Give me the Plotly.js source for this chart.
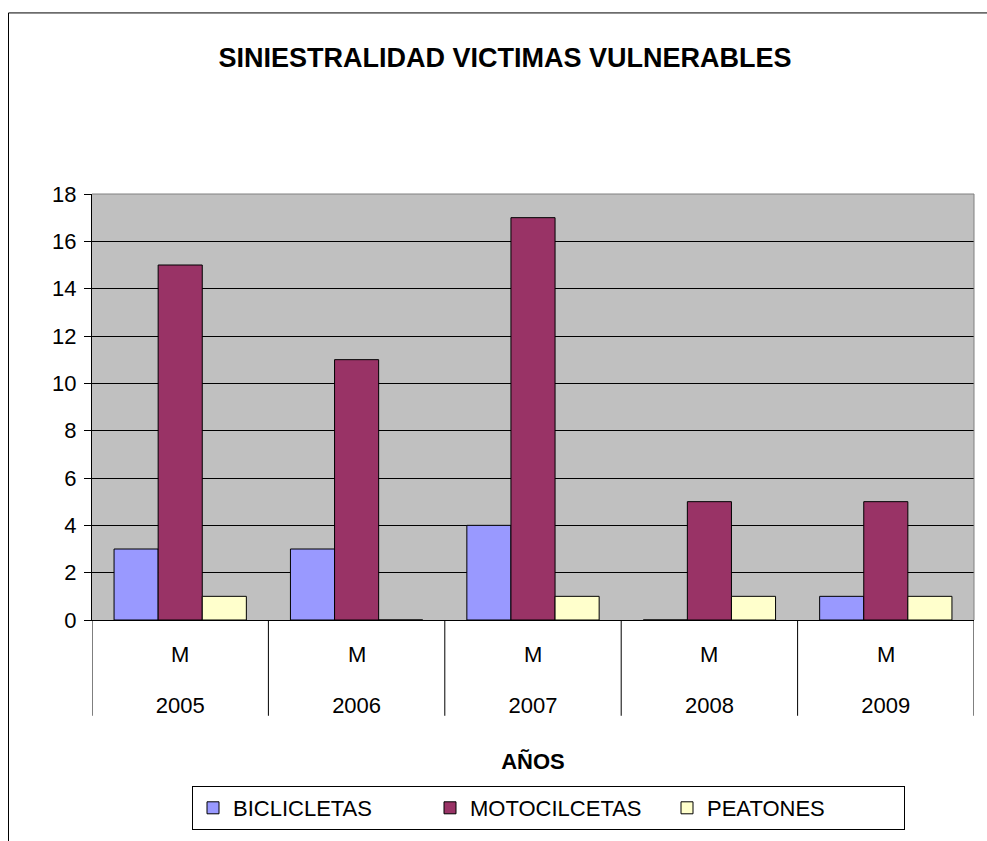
<!DOCTYPE html>
<html>
<head>
<meta charset="utf-8">
<script src="https://cdn.plot.ly/plotly-3.0.1.min.js"></script>
<style>html,body{margin:0;padding:0;background:#fff;}#chart{width:987px;height:841px;}</style>
</head>
<body>
<div id="chart"></div>
<script>
var years = ['2005', '2006', '2007', '2008', '2009'];
var subLabels = ['M', 'M', 'M', 'M', 'M'];
var seriesNames = ['BICLICLETAS', 'MOTOCILCETAS', 'PEATONES'];
var bicicletas = [3, 3, 4, 0, 1];
var motocicletas = [15, 11, 17, 5, 5];
var peatones = [1, 0, 1, 1, 1];
var yTicks = [0, 2, 4, 6, 8, 10, 12, 14, 16, 18];

var FONT = 'Arial, "Liberation Sans", sans-serif';
var colors = ['#9999FF', '#993366', '#FFFFCC'];
var values = [bicicletas, motocicletas, peatones];

var traces = values.map(function (v, i) {
  return {
    type: 'bar',
    name: seriesNames[i],
    x: years,
    y: v,
    marker: { color: colors[i], line: { color: '#000000', width: 1 } },
    hoverinfo: 'y'
  };
});

// plot-area geometry (px) used to convert to paper fractions
var PL = 92, PR = 974, PT = 194, PB = 621;
function px2py(py) { return (PB - py) / (PB - PT); }
function px2px(px) { return (px - PL) / (PR - PL); }

// sub-category labels ("M") placed per category (category index on the x axis)
var subAnnotations = years.map(function (yr, i) {
  return {
    xref: 'x', yref: 'paper', x: i, y: px2py(656),
    xanchor: 'center', yanchor: 'middle', showarrow: false,
    text: subLabels[i],
    font: { family: FONT, size: 22, color: '#000000' }
  };
});

// category dividers (boundaries between categories, derived from category count)
var dividerShapes = [];
for (var i = 0; i <= years.length; i++) {
  dividerShapes.push({
    type: 'line', xref: 'x', yref: 'paper',
    x0: i - 0.5, x1: i - 0.5, y0: 0, y1: px2py(717),
    line: { color: '#000000', width: 1 }, layer: 'above'
  });
}

var layout = {
  width: 987,
  height: 841,
  margin: { l: PL, r: 987 - PR, t: PT, b: 841 - PB, pad: 0 },
  paper_bgcolor: '#FFFFFF',
  plot_bgcolor: '#C0C0C0',
  font: { family: FONT, color: '#000000', size: 22 },
  title: {
    text: '<b>SINIESTRALIDAD VICTIMAS VULNERABLES</b>',
    font: { family: FONT, size: 27, color: '#000000' },
    xref: 'container', x: 0.5117, xanchor: 'center',
    yref: 'container', y: 1 - 58 / 841, yanchor: 'middle'
  },
  barmode: 'group',
  bargap: 0.25,
  bargroupgap: 0,
  showlegend: true,
  legend: {
    orientation: 'h',
    x: px2px(192), xanchor: 'left',
    y: px2py(786), yanchor: 'top',
    bgcolor: '#FFFFFF',
    bordercolor: '#000000',
    borderwidth: 1,
    font: { family: FONT, size: 22, color: '#000000' },
    entrywidth: 192,
    traceorder: 'normal'
  },
  xaxis: {
    type: 'category',
    range: [-0.5, years.length - 0.5],
    showline: true, linecolor: '#000000', linewidth: 1,
    showgrid: false, zeroline: false,
    ticks: '',
    tickfont: { family: FONT, size: 22, color: '#000000' },
    ticklabelstandoff: 66,
    title: { text: '<b>AÑOS</b>', font: { family: FONT, size: 22, color: '#000000' }, standoff: 36 }
  },
  yaxis: {
    range: [0, 18],
    tickvals: yTicks,
    ticktext: yTicks.map(String),
    showline: true, linecolor: '#000000', linewidth: 1,
    ticks: 'outside', ticklen: 7, tickcolor: '#000000', tickwidth: 1,
    showgrid: true, gridcolor: '#000000', gridwidth: 1,
    zeroline: false,
    tickfont: { family: FONT, size: 22, color: '#000000' },
    ticklabelstandoff: 3
  },
  annotations: subAnnotations,
  shapes: [
    { type: 'line', xref: 'paper', yref: 'paper', x0: 0, x1: 1, y0: 1, y1: 1,
      line: { color: '#808080', width: 1 }, layer: 'above' },
    { type: 'line', xref: 'paper', yref: 'paper', x0: 1, x1: 1, y0: 0, y1: 1,
      line: { color: '#808080', width: 1 }, layer: 'above' },
    { type: 'rect', xref: 'paper', yref: 'paper',
      x0: px2px(8.5), x1: px2px(1010),
      y0: px2py(900), y1: px2py(12.5),
      line: { color: '#000000', width: 1 }, fillcolor: 'rgba(0,0,0,0)', layer: 'below' }
  ].concat(dividerShapes)
};

Plotly.newPlot('chart', traces, layout, { displayModeBar: false, staticPlot: true });
</script>
</body>
</html>
